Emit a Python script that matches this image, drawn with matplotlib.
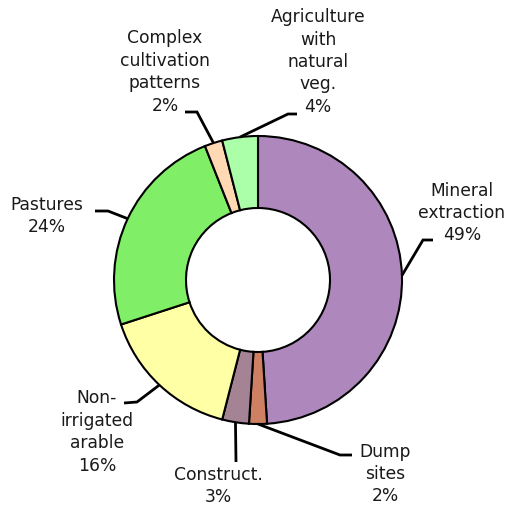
import numpy as np
import matplotlib
matplotlib.use("Agg")
import matplotlib.pyplot as plt

# land cover shares, clockwise from 12 o'clock
labels = ["Mineral\nextraction", "Dump\nsites", "Construct.", "Non-\nirrigated\narable",
          "Pastures", "Complex\ncultivation\npatterns", "Agriculture\nwith\nnatural\nveg."]
shares = [49, 2, 3, 16, 24, 2, 4]
colors = ["#ae88bd", "#cf7f62", "#a38394", "#ffffa6", "#80ee66", "#ffd8b4", "#aaffa8"]

W, H = 508, 509
cx, cy = 258, H - 280
R = 144

# where each label sits (text anchor) and the elbow of its leader line, in pixels from top-left
text_pos = [(462, 213), (385, 474), (218, 486), (97, 432), (47, 216), (165, 72), (318, 62)]
elbow = [(423, 240), (340, 455), (236, 462), (137, 402), (108, 211), (197, 112), (288, 114)]
line_end = [(433, 240), (352, 455), (236, 462), (124, 403), (95, 211), (185, 112), (297, 114)]

fig = plt.figure(figsize=(W / 100, H / 100), dpi=100)
ax = fig.add_axes([0, 0, 1, 1])

wedges, _ = ax.pie(shares, colors=colors, startangle=90, counterclock=False,
                   center=(cx, cy), radius=R,
                   wedgeprops=dict(width=R / 2, edgecolor="black", linewidth=1.5))
ax.set_xlim(0, W)
ax.set_ylim(0, H)
ax.set_aspect("equal")
ax.axis("off")

total = sum(shares)
start = 0
for i, (lab, v) in enumerate(zip(labels, shares)):
    mid = 90 - 360 * (start + v / 2) / total
    start += v
    px = cx + R * np.cos(np.radians(mid))
    py = cy + R * np.sin(np.radians(mid))
    ex, ey = elbow[i]
    lx, ly = line_end[i]
    ax.plot([px, ex, lx], [py, H - ey, H - ly], color="black", lw=2,
            solid_capstyle="butt", solid_joinstyle="miter")
    tx, ty = text_pos[i]
    ax.text(tx, H - ty, f"{lab}\n{v}%", ha="center", va="center",
            fontsize=12.3, linespacing=1.32, color="#1a1a1a")

fig.savefig("out.png", dpi=100)
